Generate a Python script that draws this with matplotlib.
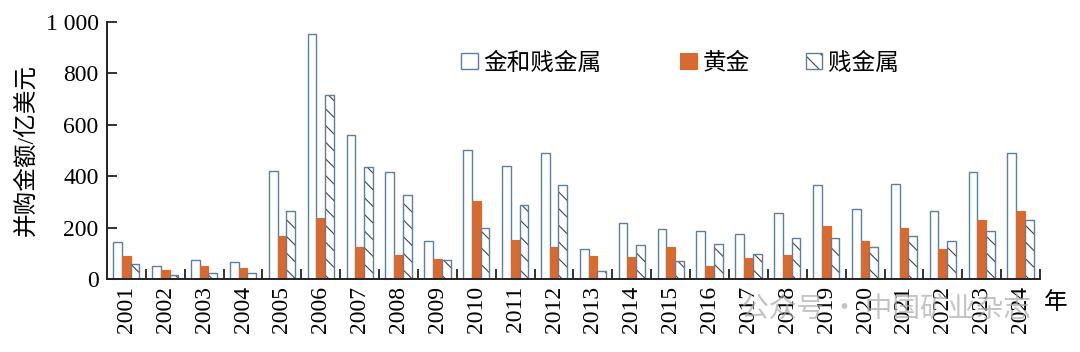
import matplotlib
matplotlib.use("Agg")
import matplotlib.pyplot as plt
import numpy as np

plt.rcParams['font.family'] = ['Liberation Serif', 'Noto Sans CJK SC']
plt.rcParams['hatch.linewidth'] = 0.8

years = [str(y) for y in range(2001, 2025)]
total = [143, 51, 74, 66, 422, 952, 559, 416, 150, 501, 440, 490,
         119, 217, 196, 189, 176, 256, 364, 272, 368, 263, 416, 492]
gold = [88, 36, 52, 45, 169, 236, 123, 92, 80, 302, 154, 126,
        88, 86, 126, 51, 82, 93, 206, 148, 200, 117, 231, 263]
base = [57, 17, 25, 23, 266, 715, 437, 326, 73, 200, 288, 364,
        32, 132, 71, 137, 99, 161, 161, 126, 169, 149, 188, 230]
series_names = ['金和贱金属', '黄金', '贱金属']

edge = '#5b7f9e'
orange = '#d8692f'

fig = plt.figure(figsize=(10.8, 3.52), dpi=100)
ax = fig.add_axes([0.099, 0.207, 0.864, 0.731])

x = np.arange(len(years))
w = 0.225
b1 = ax.bar(x - w, total, w, color='white', edgecolor=edge, linewidth=1.0)
b2 = ax.bar(x, gold, w, color=orange, edgecolor=orange, linewidth=0.8)
b3h = ax.bar(x + w, base, w, color='white', edgecolor='#444444', linewidth=0, hatch='\\\\')
b3 = ax.bar(x + w, base, w, color='none', edgecolor=edge, linewidth=1.0)

ax.set_xlim(-0.5, len(years) - 0.5)
ax.set_ylim(0, 1000)
ax.set_yticks([0, 200, 400, 600, 800, 1000])
ax.set_yticklabels(['0', '200', '400', '600', '800', '1 000'], fontsize=17)
ax.set_xticks(x)
ax.set_xticklabels(years, rotation=90, fontsize=17)
ax.set_xticks(np.arange(len(years)) + 0.5, minor=True)
ax.tick_params(axis='x', which='major', length=0, pad=5)
ax.tick_params(axis='x', which='minor', direction='in', length=7, width=1.3, color='#222222')
ax.tick_params(axis='y', direction='in', length=7, width=1.3, color='#222222', pad=6)
for s in ['top', 'right']:
    ax.spines[s].set_visible(False)
for s in ['left', 'bottom']:
    ax.spines[s].set_linewidth(1.4)
    ax.spines[s].set_color('#222222')

ax.set_ylabel('并购金额/亿美元', fontsize=17, labelpad=6)
ax.text(1.004, -0.05, '年', transform=ax.transAxes, fontsize=17, ha='left', va='top')

# three separate legend entries, spaced like the original
handles = [b1, b2, (b3h, b3)]
for h, name, xpos in zip(handles, series_names, [0.427, 0.630, 0.746]):
    leg = fig.legend([h], [name], loc='center left', bbox_to_anchor=(xpos, 0.82),
                     frameon=False, fontsize=17, handlelength=0.7, handleheight=0.7,
                     handletextpad=0.25, borderpad=0, borderaxespad=0)

fig.text(0.686, 0.12, '公众号 · 中国矿业杂志', fontsize=20, color='#aaaaaa', alpha=0.7,
         ha='left', va='center', family=['Noto Sans CJK SC'])

fig.savefig('out.png', dpi=100)
